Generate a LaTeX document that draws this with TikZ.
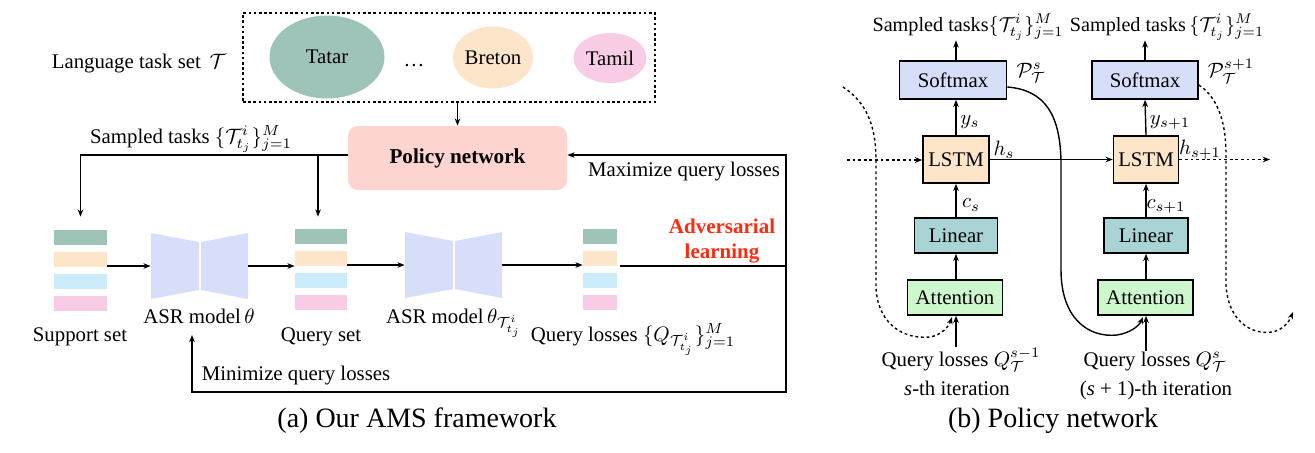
\RequirePackage{fix-cm}
\documentclass[tikz,border=0pt]{standalone}
\usepackage[no-math]{fontspec}
\setmainfont{Liberation Serif}
\usetikzlibrary{arrows.meta,shapes.geometric}
\definecolor{cteal}{RGB}{158,196,186}
\definecolor{corange}{RGB}{253,229,202}
\definecolor{cblue}{RGB}{204,236,251}
\definecolor{cpink}{RGB}{249,204,230}
\definecolor{casr}{RGB}{214,222,250}
\definecolor{cpolicy}{RGB}{253,212,207}
\definecolor{clin}{RGB}{168,212,214}
\definecolor{catt}{RGB}{205,247,205}
\definecolor{cred}{RGB}{255,43,15}
\begin{document}
\begin{tikzpicture}[x=0.5pt,y=-0.5pt,
  every node/.style={font=\fontsize{10.4}{12}\selectfont, inner sep=0pt},
  arr/.style={-{Stealth[length=3.6pt,width=2.8pt]}, line width=0.7pt},
  ln/.style={line width=0.7pt},
  dotl/.style={line width=0.7pt, dash pattern=on 1.4pt off 1.4pt},
  bar/.style={minimum height=7.5pt, inner sep=0pt},
  blk/.style={draw, line width=0.8pt, inner sep=0pt},
  captxt/.style={font=\fontsize{14}{16}\selectfont},
  toptxt/.style={font=\fontsize{10.1}{12}\selectfont},
  advtxt/.style={font=\fontsize{10.5}{12}\selectfont\bfseries, text=cred}]
\useasboundingbox (0,0) rectangle (1315,452);

% ---------- (a) ----------
\node[anchor=base] (lts) at (139,68) {Language task set \,$\mathcal{T}$};
\node[draw, dash pattern=on 1.3pt off 1.3pt, line width=0.7pt, minimum width=206pt, minimum height=44.5pt] (tset) at (449,57.5) {};
\node[ellipse, fill=cteal, minimum width=57.5pt, minimum height=41.5pt] (tatar) at (327,57) {Tatar};
\node[anchor=base] (dots) at (414,66) {\ldots};
\node[ellipse, fill=corange, minimum width=40pt, minimum height=31pt] (breton) at (493,57.5) {Breton};
\node[ellipse, fill=cpink, minimum width=36.5pt, minimum height=25pt] (tamil) at (610,58) {Tamil};

\node[fill=cpolicy, rounded corners=5pt, minimum width=109.5pt, minimum height=32pt, font=\fontsize{10.6}{12}\selectfont\bfseries] (policy) at (457.5,158) {Policy network};
\draw[arr] (tset.south -| policy.north) -- (policy.north);

\node[anchor=base] (stl) at (191,143) {Sampled tasks $\{\mathcal{T}^i_{t_j}\}_{j=1}^M$};

\foreach \c/\y [count=\i] in {cteal/237.5, corange/259.5, cblue/281.5, cpink/303.5}
  \node[bar, fill=\c, minimum width=26.5pt] (s\i) at (80.5,\y) {};
\foreach \c/\y [count=\i] in {cteal/236.5, corange/258.5, cblue/280.5, cpink/302.5}
  \node[bar, fill=\c, minimum width=26pt] (q\i) at (321,\y) {};
\foreach \c/\y [count=\i] in {cteal/236.5, corange/258.5, cblue/280.5, cpink/302.5}
  \node[bar, fill=\c, minimum width=17pt] (l\i) at (600,\y) {};

\coordinate (pl) at ([yshift=1.5pt]policy.west);
\draw[arr] (pl) -| ([yshift=6.5pt]s1.north);
\draw[arr] (pl -| 318,0) -- ([yshift=6pt]q1.north -| 318,0);

% ASR models
\node[minimum width=48.5pt, minimum height=33pt] (asr1) at (199.5,266) {};
\fill[casr] (151,233) -- (199,242) -- (199,290) -- (151,299) -- cycle;
\fill[casr] (201,242) -- (248,233) -- (248,299) -- (201,290) -- cycle;
\node[minimum width=48.5pt, minimum height=33pt] (asr2) at (453.5,265) {};
\fill[casr] (405,232) -- (453,241) -- (453,289) -- (405,298) -- cycle;
\fill[casr] (455,241) -- (502,232) -- (502,298) -- (455,289) -- cycle;

\node[anchor=base] (asr1l) at (199,323) {ASR model\,$\theta$};
\node[anchor=base] (asr2l) at (454,323) {ASR model\,$\theta_{\mathcal{T}^i_{t_j}}$};
\node[anchor=base] (supl) at (80,341) {Support set};
\node[anchor=base] (qsl) at (321,341) {Query set};
\node[anchor=base] (qll) at (633,341) {Query losses $\{Q_{\mathcal{T}^i_{t_j}}\}_{j=1}^M$};

\draw[arr] (s2.east |- asr1.west) -- (asr1.west);
\draw[arr] (asr1.east) -- (asr1.east -| q2.west);
\draw[arr] (q2.east |- asr2.west) -- (asr2.west);
\draw[arr] (asr2.east) -- (asr2.east -| l2.west);

\coordinate (rc) at (786,266);
\coordinate (rb) at (786,392);
\coordinate (mn) at (192,335);
\draw[ln] ([xshift=1.5pt]l2.east |- rc) -- (rc);
\draw[arr] (rc) |- ([yshift=1.5pt]policy.east);
\draw[arr] (rc) -- (rb) -| (mn);

\node[advtxt, anchor=base] (adv1) at (722,233) {Adversarial};
\node[advtxt, anchor=base] (adv2) at (722,258) {learning};
\node[anchor=base] (maxl) at (684,176) {Maximize query losses};
\node[anchor=base] (minl) at (296,380) {Minimize query losses};
\node[captxt, anchor=base] (capa) at (417,427) {(a) Our AMS framework};

% ---------- (b) ----------
\node[blk, fill=casr, minimum width=53.5pt, minimum height=19pt] (sm1) at (953,80) {Softmax};
\node[blk, fill=corange, minimum width=33pt, minimum height=23.5pt] (ls1) at (956,159.5) {LSTM};
\node[blk, fill=clin, minimum width=41.5pt, minimum height=17.5pt] (li1) at (956,235.5) {Linear};
\node[blk, fill=catt, minimum width=47.5pt, minimum height=17.5pt] (at1) at (955,297.5) {Attention};

\node[blk, fill=casr, minimum width=53pt, minimum height=19pt] (sm2) at (1145,80) {Softmax};
\node[blk, fill=corange, minimum width=32.5pt, minimum height=23.5pt] (ls2) at (1146,159.5) {LSTM};
\node[blk, fill=clin, minimum width=42pt, minimum height=17.5pt] (li2) at (1146,235.5) {Linear};
\node[blk, fill=catt, minimum width=47.5pt, minimum height=17.5pt] (at2) at (1145.5,297.5) {Attention};

\node[toptxt, anchor=base] (tl1) at (968,31) {Sampled tasks$\{\mathcal{T}^i_{t_j}\}_{j=1}^M$};
\node[toptxt, anchor=base] (tl2) at (1167,31) {Sampled tasks\,$\{\mathcal{T}^i_{t_j}\}_{j=1}^M$};
\draw[arr] (956,0 |- sm1.north) -- (956,0 |- tl1.south);
\draw[arr] (sm2.north) -- (sm2.north |- tl2.south);

\draw[arr] (956,0 |- li1.north) -- (956,0 |- ls1.south);
\draw[arr] (956,0 |- ls1.north) -- (956,0 |- sm1.south);
\draw[arr] (956,0 |- at1.north) -- (956,0 |- li1.south);
\draw[arr] (li2.north) -- (ls2.south);
\draw[arr] (ls2.north) -- (sm2.south);
\draw[arr] (at2.north -| li2.south) -- (li2.south);

\node (p1) at (1031,73) {$\mathcal{P}^{s}_{\mathcal{T}}$};
\node (p2) at (1231,71) {$\mathcal{P}^{s+1}_{\mathcal{T}}$};
\node (ys1) at (970,122) {$y_s$};
\node (hs1) at (1004,150) {$h_s$};
\node (cs1) at (971,205) {$c_s$};
\node (ys2) at (1170,122) {$y_{s+1}$};
\node (hs2) at (1200,150) {$h_{s+1}$};
\node (cs2) at (1166,206) {$c_{s+1}$};

\node[anchor=base] (ql1) at (961,366) {Query losses $Q_{\mathcal{T}}^{s-1}$};
\node[anchor=base] (it1) at (957,395) {\textit{s}-th iteration};
\node[anchor=base] (ql2) at (1155,366) {Query losses $Q_{\mathcal{T}}^{s}$};
\node[anchor=base] (it2) at (1156,395) {(\textit{s} + 1)-th iteration};
\draw[arr] (956,0 |- ql1.north) -- (956,0 |- at1.south);
\draw[arr] (1146,0 |- ql2.north) -- (1146,0 |- at2.south);

\coordinate (hin) at (847,160);
\coordinate (hout) at (1270,160);
\draw[arr, dotl] (hin) -- (hin -| ls1.west);
\draw[arr] (ls1.east) -- (ls1.east -| ls2.west);
\draw[arr, dotl] (ls2.east) -- (ls2.east -| hout);

\coordinate (cl) at (843,87);
\draw[arr, dotl] (cl) .. controls (866,102) and (876,125) .. (876,160) -- (876,285)
  .. controls (876,320) and (900,340) .. (930,337)
  .. controls (942,335) and (949,326) .. (952,317);
\draw[arr] ([yshift=-3.5pt]sm1.east) .. controls (1045,90) and (1061,115) .. (1061,165) -- (1061,270)
  .. controls (1061,318) and (1088,338) .. (1117,335)
  .. controls (1130,333) and (1139,326) .. (1143,317);
\coordinate (rend) at (1293,312);
\draw[arr, dotl] ([yshift=-2.5pt]sm2.east) .. controls (1214,95) and (1226,115) .. (1226,155) -- (1226,285)
  .. controls (1228,320) and (1250,335) .. (1272,332)
  .. controls (1283,330) and (1289,322) .. (rend);

\node[captxt, anchor=base] (capb) at (1053,427) {(b) Policy network};
\end{tikzpicture}
\end{document}
